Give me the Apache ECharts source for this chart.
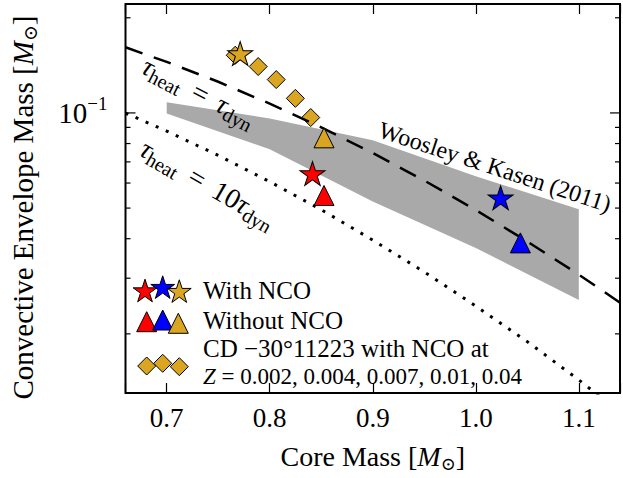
<!DOCTYPE html>
<html>
<head>
<meta charset="utf-8">
<script src="https://cdn.jsdelivr.net/npm/echarts@6/dist/echarts.min.js"></script>
<style>
html, body { margin: 0; padding: 0; background: #fff; }
#main { width: 623px; height: 478px; }
</style>
</head>
<body>
<div id="main"></div>
<script>
// axis ranges
var xMin = 0.66, xMax = 1.14;
var yMin = 0.013, yMax = 0.2211;

// tau_heat = tau_dyn (dashed) and tau_heat = 10 tau_dyn (dotted)
var dynMass = [0.66, 0.70, 0.75, 0.80, 0.85, 0.90, 0.95, 1.00, 1.05, 1.10, 1.14];
var dynEnv = [0.1613, 0.1450, 0.1255, 0.1070, 0.0900, 0.0747, 0.0611, 0.0493, 0.0392, 0.0308, 0.0251];
var dyn10Mass = [0.66, 0.70, 0.75, 0.80, 0.85, 0.90, 0.95, 1.00, 1.05, 1.10, 1.12];
var dyn10Env = [0.0999, 0.0876, 0.0734, 0.0606, 0.0494, 0.0396, 0.0314, 0.0245, 0.0189, 0.0143, 0.0127];

// Woosley & Kasen (2011) band
var wkMass = [0.7, 0.8, 0.9, 1.0, 1.1];
var wkUpper = [0.108, 0.096, 0.082, 0.063, 0.0496];
var wkLower = [0.0995, 0.0768, 0.0525, 0.0374, 0.0256];

// models: red, blue, gold
var ncoMass = [0.8415, 1.0241, 0.7713];
var ncoEnv = [0.0643, 0.0539, 0.1541];
var noNcoMass = [0.8527, 1.0433, 0.8527];
var noNcoEnv = [0.0548, 0.0388, 0.0834];

// CD -30 11223 at Z = 0.002 ... 0.04
var cdMass = [0.7665, 0.7888, 0.8063, 0.8249, 0.8398];
var cdEnv = [0.1522, 0.1402, 0.1275, 0.1112, 0.0967];

// log axis ticks
var yMinorTicks = [0.02, 0.03, 0.04, 0.05, 0.06, 0.07, 0.08, 0.09, 0.2];
var yMajorTicks = [0.1];

var colors = ['#ff0000', '#0000ff', '#daa520'];
var FONT = '"Liberation Serif", "DejaVu Serif", serif';

function starPoints(cx, cy, r) {
  var pts = [];
  for (var k = 0; k < 10; k++) {
    var rr = k % 2 ? r * 0.382 : r;
    var a = (-90 + 36 * k) * Math.PI / 180;
    pts.push([cx + rr * Math.cos(a), cy + rr * Math.sin(a)]);
  }
  return pts;
}
var starPath = 'path://M' + starPoints(100, 100, 100).map(function (p) {
  return p[0].toFixed(2) + ' ' + p[1].toFixed(2);
}).join(' L') + ' Z';

function pairs(xs, ys) {
  return xs.map(function (x, i) { return [x, ys[i]]; });
}
function colorByIndex(p) { return colors[p.dataIndex]; }

var myChart = echarts.init(document.getElementById('main'), null, { renderer: 'svg' });

// tau labels: italic tau, roman subscripts, spaced "="
var tauRich = {
  t: { fontFamily: FONT, fontSize: 28, fontStyle: 'italic' },
  s: { fontFamily: FONT, fontSize: 20, padding: [14, 0, 0, 0] },
  n: { fontFamily: FONT, fontSize: 28, padding: [0, 12, 0, 12] },
  d: { fontFamily: FONT, fontSize: 28 }
};

function legendStar(cx, cy, c) {
  return { type: 'polygon', shape: { points: starPoints(cx, cy, 12.5) },
    style: { fill: c, stroke: '#000', lineWidth: 1 }, z: 100 };
}
function legendTri(cx, cy, c) {
  return { type: 'polygon', shape: { points: [[cx, cy - 10], [cx - 10, cy + 10], [cx + 10, cy + 10]] },
    style: { fill: c, stroke: '#000', lineWidth: 1 }, z: 100 };
}
function legendDiamond(cx, cy, c) {
  return { type: 'polygon', shape: { points: [[cx, cy - 9], [cx + 9, cy], [cx, cy + 9], [cx - 9, cy]] },
    style: { fill: c, stroke: '#000', lineWidth: 1 }, z: 100 };
}
function label(x, y, text, size, rot, rich) {
  return { type: 'text', x: x, y: y, rotation: rot * Math.PI / 180, z: 100,
    style: { text: text, fontFamily: FONT, fontSize: size, fill: '#000',
      align: 'center', verticalAlign: 'middle', textAlign: 'center', textVerticalAlign: 'middle', rich: rich } };
}
function legendText(x, y, text, size, rich) {
  return { type: 'text', x: x, y: y, z: 100,
    style: { text: text, fontFamily: FONT, fontSize: size, fill: '#000',
      align: 'left', verticalAlign: 'middle', textAlign: 'left', textVerticalAlign: 'middle', rich: rich } };
}

var nameRich = {
  it: { fontFamily: FONT, fontSize: 28, fontStyle: 'italic' },
  sub: { fontFamily: FONT, fontSize: 18, padding: [15, 0, 0, 0] }
};
var yNameRich = {
  it: { fontFamily: FONT, fontSize: 29, fontStyle: 'italic' },
  sub: { fontFamily: FONT, fontSize: 19, padding: [15, 0, 0, 0] }
};

var option = {
  animation: false,
  grid: { left: 120, right: 1, top: 4, bottom: 74, show: true, borderColor: '#000', borderWidth: 2 },
  xAxis: [{
    type: 'value', min: xMin, max: xMax,
    name: 'Core Mass [{it|M}{sub|⊙}]', nameLocation: 'middle', nameGap: 47,
    nameTextStyle: { fontFamily: FONT, fontSize: 28, color: '#000', rich: nameRich },
    axisLine: { show: false },
    axisTick: { inside: true, length: 10, lineStyle: { color: '#000', width: 1.2 } },
    axisLabel: { fontFamily: FONT, fontSize: 27, color: '#000', margin: 11,
      formatter: function (v) {
        var r = Math.round(v * 10) / 10;
        return Math.abs(v - r) < 1e-6 ? r.toFixed(1) : '';
      } },
    splitLine: { show: false }
  }, {
    type: 'value', min: xMin, max: xMax, position: 'top',
    axisLine: { show: false },
    axisTick: { inside: true, length: 10, lineStyle: { color: '#000', width: 1.2 } },
    axisLabel: { show: false },
    splitLine: { show: false }
  }],
  yAxis: {
    type: 'log', min: yMin, max: yMax,
    name: 'Convective Envelope Mass [{it|M}{sub|⊙}]', nameLocation: 'middle', nameGap: 86,
    nameTextStyle: { fontFamily: FONT, fontSize: 29, color: '#000', rich: yNameRich, padding: [0, 18, 0, 0] },
    axisLine: { show: false },
    axisTick: { show: false },
    axisLabel: { fontFamily: FONT, fontSize: 29, color: '#000', margin: 18,
      formatter: function (v) {
        return Math.abs(Math.log10(v) + 1) < 1e-6 ? '{b|10}{sup|−1}' : '';
      },
      rich: { b: { fontFamily: FONT, fontSize: 29 },
        sup: { fontFamily: FONT, fontSize: 19, padding: [0, 0, 18, 0] } } },
    splitLine: { show: false }
  },
  series: [
    {
      type: 'custom', z: 1, silent: true,
      data: [[wkMass[0], wkUpper[0]]],
      renderItem: function (params, api) {
        var pts = [];
        wkMass.forEach(function (m, i) { pts.push(api.coord([m, wkUpper[i]])); });
        for (var i = wkMass.length - 1; i >= 0; i--) pts.push(api.coord([wkMass[i], wkLower[i]]));
        return { type: 'polygon', shape: { points: pts }, style: { fill: '#a9a9a9' } };
      }
    },
    {
      type: 'custom', z: 10, silent: true,
      data: yMinorTicks.concat(yMajorTicks).map(function (v) { return [(xMin + xMax) / 2, v]; }),
      renderItem: function (params, api) {
        var cs = params.coordSys;
        var v = api.value(1);
        var y = api.coord([api.value(0), v])[1];
        var len = yMajorTicks.indexOf(v) >= 0 ? 10 : 5;
        var st = { stroke: '#000', lineWidth: 1.2 };
        return { type: 'group', children: [
          { type: 'line', shape: { x1: cs.x, y1: y, x2: cs.x + len, y2: y }, style: st },
          { type: 'line', shape: { x1: cs.x + cs.width - len, y1: y, x2: cs.x + cs.width, y2: y }, style: st }
        ] };
      }
    },
    {
      type: 'scatter', z: 2, symbol: 'diamond', symbolSize: [18, 18],
      itemStyle: { color: '#daa520', borderColor: '#000', borderWidth: 1, opacity: 1 },
      data: pairs(cdMass, cdEnv)
    },
    {
      type: 'line', z: 3, showSymbol: false, symbol: 'none',
      lineStyle: { color: '#000', width: 2.5, type: [18, 12], cap: 'butt' },
      data: pairs(dynMass, dynEnv)
    },
    {
      type: 'line', z: 3, showSymbol: false, symbol: 'none',
      lineStyle: { color: '#000', width: 3, type: [3, 8], cap: 'butt' },
      data: pairs(dyn10Mass, dyn10Env)
    },
    {
      type: 'scatter', z: 4, symbol: 'triangle', symbolSize: [20, 20],
      itemStyle: { color: colorByIndex, borderColor: '#000', borderWidth: 1, opacity: 1 },
      data: pairs(noNcoMass, noNcoEnv)
    },
    {
      type: 'scatter', z: 5, symbol: starPath, symbolSize: [25, 23.8],
      itemStyle: { color: colorByIndex, borderColor: '#000', borderWidth: 1, opacity: 1 },
      data: pairs(ncoMass, ncoEnv)
    }
  ],
  graphic: [
    label(199, 92, '{t|τ}{s|heat}{n|=}{t|τ}{s|dyn}', 28, -27, tauRich),
    label(208, 184, '{t|τ}{s|heat}{n|=}{d|10}{t|τ}{s|dyn}', 28, -30, tauRich),
    label(495, 167, 'Woosley & Kasen (2011)', 24, -18.2),
    legendStar(145, 291.7, colors[0]), legendStar(162.7, 288.3, colors[1]), legendStar(179.3, 292.3, colors[2]),
    legendTri(146.7, 321.7, colors[0]), legendTri(162.7, 320, colors[1]), legendTri(178.3, 323.3, colors[2]),
    legendDiamond(146.7, 366, colors[2]), legendDiamond(162.7, 363.3, colors[2]), legendDiamond(179.3, 366.7, colors[2]),
    legendText(203, 290, 'With NCO', 25),
    legendText(203, 320, 'Without NCO', 25),
    legendText(203, 348, 'CD −30°11223 with NCO at', 25),
    legendText(203, 376, '{i|Z} = 0.002, 0.004, 0.007, 0.01, 0.04', 23,
      { i: { fontFamily: FONT, fontSize: 23, fontStyle: 'italic' } })
  ]
};
myChart.setOption(option);
</script>
</body>
</html>
